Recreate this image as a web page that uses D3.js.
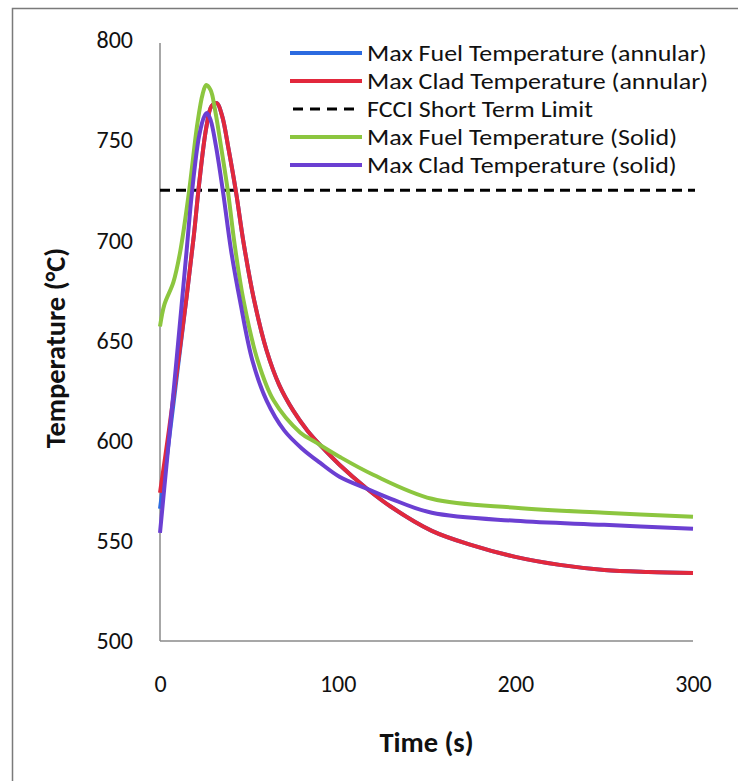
<!DOCTYPE html>
<html>
<head>
<meta charset="utf-8">
<script src="https://cdn.jsdelivr.net/npm/d3@7"></script>
<style>
  html, body { margin: 0; padding: 0; background: #fff; }
  svg { display: block; }
  text { font-family: Carlito, Lato, "Open Sans", sans-serif; fill: #111; }
</style>
</head>
<body>
<svg id="chart" width="738" height="781"></svg>
<script>
// Transient temperature histories (time in s, temperature in °C)
const fuelAnnularTime  = [0, 5, 10, 15, 19, 22, 26, 29, 32, 35, 38.5, 42.8, 47, 53, 60, 67, 75, 83, 91, 101, 116.5, 130, 153, 175, 200, 225, 250, 275, 300];
const fuelAnnularTemp  = [566, 600, 636, 672, 702, 728, 756, 767, 768.5, 762, 746, 724, 699, 670, 645, 628, 615, 605, 597, 588, 576, 567, 555, 548, 542, 538, 535.5, 534.5, 534];

const cladAnnularTime  = [0, 5, 10, 15, 19, 22, 26, 29, 32, 35, 38.5, 42.8, 47, 53, 60, 67, 75, 83, 91, 101, 116.5, 130, 153, 175, 200, 225, 250, 275, 300];
const cladAnnularTemp  = [574, 605, 638, 672, 702, 728, 756, 767, 768.5, 762, 746, 724, 699, 670, 645, 628, 615, 605, 597, 588, 576, 567, 555, 548, 542, 538, 535.5, 534.5, 534];

const fuelSolidTime    = [0, 2.5, 7.5, 11.3, 16.3, 21, 24, 26, 28.5, 31, 34.5, 38.3, 42, 47, 55, 64, 79, 88, 101, 120, 153, 200, 250, 300];
const fuelSolidTemp    = [657, 668, 679, 694, 724, 758, 773, 777.5, 775, 765, 746, 724, 698, 670, 640, 620, 604, 599, 592, 583, 571, 566.5, 564, 562];

const cladSolidTime    = [0, 4, 8, 12, 15, 18, 22, 25, 26.5, 28.5, 31.5, 35.5, 40, 45, 52, 60, 70, 80, 90, 101, 116.5, 130, 153, 200, 250, 300];
const cladSolidTemp    = [554, 591, 628, 666, 695, 724, 752, 762, 763.5, 760, 747, 724, 695, 670, 640, 620, 605, 596, 589, 582, 576, 571, 564, 560, 558, 556];

const fcciLimit = 725;

const seriesNames  = ["Max Fuel Temperature (annular)", "Max Clad Temperature (annular)", "FCCI Short Term Limit", "Max Fuel Temperature (Solid)", "Max Clad Temperature (solid)"];
const seriesColors = ["#2c6be0", "#e2283c", "#000000", "#8cc63f", "#6b3fd2"];

const xTicks = [0, 100, 200, 300];
const yTicks = [500, 550, 600, 650, 700, 750, 800];

const svg = d3.select("#chart");

// outer frame (extends beyond the right and bottom edges)
svg.append("rect")
  .attr("x", 12.5).attr("y", 8.5)
  .attr("width", 800).attr("height", 820)
  .attr("fill", "none").attr("stroke", "#7a7a7a").attr("stroke-width", 1.5);

const x = d3.scaleLinear().domain([0, 300]).range([160, 693]);
const y = d3.scaleLinear().domain([500, 800]).range([641, 40]);

// axes: plain grey lines, no tick marks
const yAxis = d3.axisLeft(y).tickValues(yTicks).tickSize(0).tickPadding(27);
const xAxis = d3.axisBottom(x).tickValues(xTicks).tickSize(0).tickPadding(34);

const gy = svg.append("g").attr("transform", `translate(${x(0)},0)`).call(yAxis);
gy.select(".domain").attr("stroke", "#8a8a8a").attr("stroke-width", 1.5)
  .attr("d", `M0,${y(800) + 3}V${y(500)}`);
gy.selectAll("text").style("font-size", "24px").style("font-family", "Carlito, Lato, sans-serif").attr("fill", "#111");

const gx = svg.append("g").attr("transform", `translate(0,${y(500)})`).call(xAxis);
gx.select(".domain").attr("stroke", "#8a8a8a").attr("stroke-width", 1.5)
  .attr("d", `M${x(0)},0H${x(300)}`);
gx.selectAll("text").style("font-size", "24px").style("font-family", "Carlito, Lato, sans-serif").attr("fill", "#111");

// axis titles
svg.append("text")
  .attr("transform", `translate(65,348) rotate(-90)`)
  .attr("text-anchor", "middle")
  .style("font-size", "28.5px").style("font-weight", "bold")
  .text("Temperature (°C)");

svg.append("text")
  .attr("x", (x(0) + x(300)) / 2).attr("y", 752)
  .attr("text-anchor", "middle")
  .style("font-size", "28.5px").style("font-weight", "bold")
  .text("Time (s)");

// FCCI limit
svg.append("line")
  .attr("x1", x(0)).attr("x2", x(300) + 2)
  .attr("y1", y(fcciLimit)).attr("y2", y(fcciLimit))
  .attr("stroke", "#000").attr("stroke-width", 3)
  .attr("stroke-dasharray", "10,6");

const line = d3.line()
  .x(d => x(d[0])).y(d => y(d[1]))
  .curve(d3.curveCatmullRom.alpha(0.5));

const curves = [
  { t: fuelAnnularTime, v: fuelAnnularTemp, c: seriesColors[0] },
  { t: cladAnnularTime, v: cladAnnularTemp, c: seriesColors[1] },
  { t: fuelSolidTime,   v: fuelSolidTemp,   c: seriesColors[3] },
  { t: cladSolidTime,   v: cladSolidTemp,   c: seriesColors[4] }
];

curves.forEach(s => {
  svg.append("path")
    .datum(s.t.map((t, i) => [t, s.v[i]]))
    .attr("fill", "none")
    .attr("stroke", s.c)
    .attr("stroke-width", 4)
    .attr("stroke-linejoin", "round")
    .attr("d", line);
});

// legend: compact rows, glyphs widened slightly so the labels keep a narrow line height
const legendRowY = [53, 81, 109, 137, 165];
const lg = svg.append("g");
seriesNames.forEach((name, i) => {
  const ly = legendRowY[i];
  lg.append("line")
    .attr("x1", i === 2 ? 293 : 290).attr("x2", i === 2 ? 358 : 362)
    .attr("y1", ly).attr("y2", ly)
    .attr("stroke", seriesColors[i])
    .attr("stroke-width", i === 2 ? 3 : 4)
    .attr("stroke-dasharray", i === 2 ? "10,7" : null);
  lg.append("text")
    .attr("transform", `translate(367,${ly + 7.5}) scale(1.13,1)`)
    .style("font-size", "23px")
    .text(name);
});
</script>
</body>
</html>
